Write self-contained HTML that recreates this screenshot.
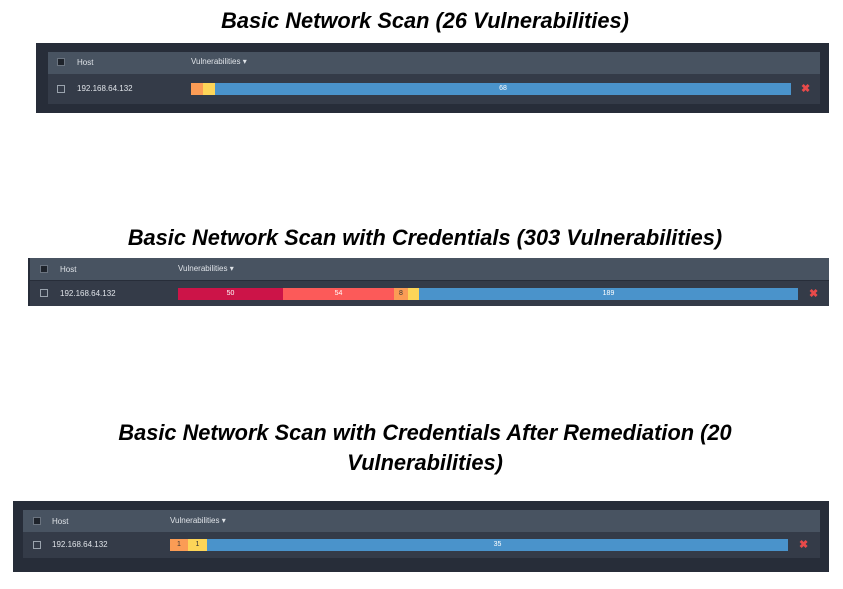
<!DOCTYPE html>
<html><head><style>
body{margin:0;width:843px;height:589px;background:#fff;position:relative;overflow:hidden;font-family:"Liberation Sans",sans-serif}
.a{position:absolute}
.t{position:absolute;left:0;width:850px;text-align:center;font-weight:bold;font-style:italic;font-size:21.8px;color:#000}
.out{background:#272d39}
.hd{background:#485361}
.rw{background:#343b48}
.s{position:absolute;color:#dfe3e8;font-size:8px}
.cb{position:absolute;width:6px;height:6px;border:1px solid #9aa3ad}
.cbh{position:absolute;width:6px;height:6px;background:#1e232b;border:1px solid #6b7480}
.bar{position:absolute;height:12px;display:flex}
.bar div{height:100%;color:#fff;font-size:7px;text-align:center;line-height:12px}
.x{position:absolute;color:#e84a4a;font-size:11px;font-weight:bold}
</style></head><body>
<div class="t" style="top:8px">Basic Network Scan (26 Vulnerabilities)</div>
<div class="a out" style="left:36px;top:43px;width:793px;height:70px"></div>
<div class="a hd" style="left:48px;top:52px;width:772px;height:22px"></div>
<div class="a rw" style="left:48px;top:74px;width:772px;height:30px"></div>
<div class="cbh" style="left:57px;top:58px"></div><div class="s" style="left:77px;top:58px">Host</div>
<div class="s" style="left:191px;top:57px">Vulnerabilities ▾</div>
<div class="cb" style="left:57px;top:85px"></div><div class="s" style="left:77px;top:84px">192.168.64.132</div>
<div class="bar" style="left:191px;top:83px;width:600px"><div style="width:12px;background:#fb9c55"></div><div style="width:12px;background:#fdd558"></div><div style="flex:1;background:#4a93cb">68</div></div>
<div class="x" style="left:801px;top:82px">✖</div>

<div class="t" style="top:225px">Basic Network Scan with Credentials (303 Vulnerabilities)</div>
<div class="a out" style="left:28px;top:258px;width:801px;height:48px"></div>
<div class="a hd" style="left:30px;top:258px;width:799px;height:22px"></div>
<div class="a rw" style="left:30px;top:281px;width:799px;height:25px"></div>
<div class="cbh" style="left:40px;top:265px"></div><div class="s" style="left:60px;top:265px">Host</div>
<div class="s" style="left:178px;top:264px">Vulnerabilities ▾</div>
<div class="cb" style="left:40px;top:289px"></div><div class="s" style="left:60px;top:289px">192.168.64.132</div>
<div class="bar" style="left:178px;top:288px;width:620px"><div style="width:105px;background:#cc1448">50</div><div style="width:111px;background:#fc5a59">54</div><div style="width:14px;background:#fb9c55;color:#333">8</div><div style="width:11px;background:#fdd558"></div><div style="flex:1;background:#4a93cb">189</div></div>
<div class="x" style="left:809px;top:287px">✖</div>

<div class="t" style="top:420px">Basic Network Scan with Credentials After Remediation (20</div>
<div class="t" style="top:450px">Vulnerabilities)</div>
<div class="a out" style="left:13px;top:501px;width:816px;height:71px"></div>
<div class="a hd" style="left:23px;top:510px;width:797px;height:22px"></div>
<div class="a rw" style="left:23px;top:532px;width:797px;height:26px"></div>
<div class="cbh" style="left:33px;top:517px"></div><div class="s" style="left:52px;top:517px">Host</div>
<div class="s" style="left:170px;top:516px">Vulnerabilities ▾</div>
<div class="cb" style="left:33px;top:541px"></div><div class="s" style="left:52px;top:540px">192.168.64.132</div>
<div class="bar" style="left:170px;top:539px;width:618px"><div style="width:18px;background:#fb9c55;color:#333">1</div><div style="width:19px;background:#fdd558;color:#333">1</div><div style="flex:1;background:#4a93cb">35</div></div>
<div class="x" style="left:799px;top:538px">✖</div>
</body></html>
